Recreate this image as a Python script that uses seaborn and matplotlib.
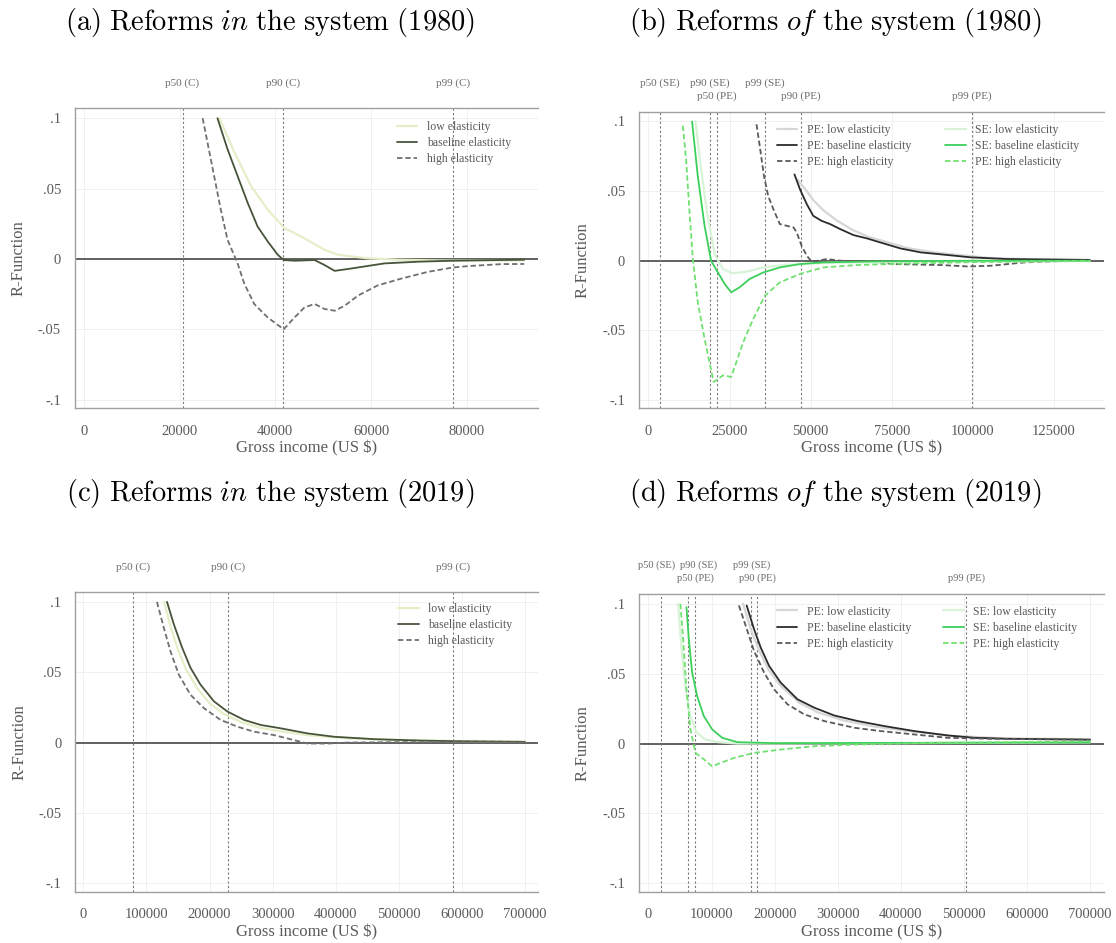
import matplotlib
matplotlib.use("Agg")
import matplotlib.pyplot as plt
import matplotlib.transforms as mtransforms
import seaborn as sns

# ---------------- values ----------------
# (a) reforms in the system, 1980
a_low_x = [28300, 31400, 34900, 38400, 41900, 45400, 50300, 53100, 59300, 66000, 75000, 85000, 92000]
a_low_y = [0.1, 0.076, 0.052, 0.035, 0.022, 0.016, 0.0065, 0.003, 0.0005, -0.0005, -0.001, -0.001, -0.001]
a_base_x = [27900, 30000, 32100, 34200, 36300, 38400, 40500, 41750, 44000, 48200, 50300, 52400,
            55900, 62800, 69800, 77100, 87300, 92000]
a_base_y = [0.1, 0.078, 0.059, 0.040, 0.023, 0.0125, 0.003, -0.0007, -0.0012, -0.0007, -0.0043, -0.0084,
            -0.0067, -0.0031, -0.0019, -0.0012, -0.0007, -0.0005]
a_high_x = [24800, 25800, 27200, 28600, 30000, 32100, 33500, 35600, 38400, 41750, 44000, 46100, 48200,
            50300, 52400, 54500, 57300, 61400, 66300, 71900, 77100, 80300, 87300, 92000]
a_high_y = [0.1, 0.083, 0.059, 0.035, 0.0137, -0.003, -0.0175, -0.032, -0.0415, -0.0499, -0.0415, -0.0343,
            -0.0319, -0.0355, -0.0367, -0.0331, -0.0259, -0.0187, -0.0139, -0.0091, -0.006, -0.005,
            -0.0036, -0.0035]
a_pct_x = [20600, 41600, 77100]
a_pct_lab = ["p50 (C)", "p90 (C)", "p99 (C)"]

# (b) reforms of the system, 1980
b_pe_low_x = [46000, 48800, 51000, 54000, 58000, 63000, 68000, 74000, 80000, 88000, 96000, 105000, 118000, 136000]
b_pe_low_y = [0.058, 0.05, 0.043, 0.036, 0.029, 0.022, 0.017, 0.013, 0.009, 0.006, 0.004, 0.002, 0.001, 0.0005]
b_pe_base_x = [45000, 46700, 48800, 50800, 53400, 56000, 59100, 63200, 67400, 71500, 77700, 83900,
               92200, 99400, 110700, 130400, 136000]
b_pe_base_y = [0.062, 0.0513, 0.0406, 0.0322, 0.0286, 0.0263, 0.0227, 0.0184, 0.016, 0.0131, 0.0088, 0.006,
               0.0041, 0.0024, 0.0012, 0.0007, 0.0006]
b_pe_high_x = [33300, 34300, 35600, 36900, 38500, 40500, 42600, 44700, 45700, 47200, 48800, 50300, 55000,
               59100, 69400, 75600, 90100, 98400, 105600, 115900, 130400, 136000]
b_pe_high_y = [0.098, 0.0823, 0.0609, 0.0465, 0.037, 0.0263, 0.0251, 0.0239, 0.0203, 0.0107, 0.0036, -0.0007,
               0.0012, 0.0, -0.0007, -0.0024, -0.0031, -0.0041, -0.0036, -0.0012, 0.0, 0.0]
b_se_low_x = [14500, 16000, 18000, 20500, 23000, 26000, 30000, 35000, 42000, 55000, 80000, 136000]
b_se_low_y = [0.1, 0.07, 0.035, 0.004, -0.006, -0.009, -0.008, -0.005, -0.003, -0.0015, -0.0008, -0.0003]
b_se_base_x = [13450, 15200, 17300, 19300, 21400, 23500, 25500, 28100, 31200, 35400, 40500, 46700, 53900,
               70000, 100000, 136000]
b_se_base_y = [0.1, 0.0609, 0.0251, 0.0, -0.0084, -0.0167, -0.0227, -0.0191, -0.0131, -0.0084, -0.0048,
               -0.0024, -0.0012, -0.0005, 0.0, 0.0]
b_se_high_x = [10600, 11600, 12600, 13700, 15200, 17300, 18800, 20100, 23000, 25500, 27100, 29200, 32300,
               35900, 40500, 46700, 53900, 64300, 80000, 100000, 136000]
b_se_high_y = [0.097, 0.0728, 0.037, 0.0012, -0.0298, -0.0561, -0.0728, -0.0871, -0.0823, -0.0835, -0.0728,
               -0.0585, -0.0418, -0.0251, -0.0155, -0.0095, -0.0048, -0.0031, -0.002, -0.001, 0.0]
b_pct_se_x = [3500, 19000, 35900]
b_pct_se_lab = ["p50 (SE)", "p90 (SE)", "p99 (SE)"]
b_pct_pe_x = [21200, 46900, 99600]
b_pct_pe_lab = ["p50 (PE)", "p90 (PE)", "p99 (PE)"]

# (c) reforms in the system, 2019
c_low_x = [128000, 138000, 150000, 163000, 180000, 200000, 222000, 250000, 280000, 320000, 360000, 420000,
           500000, 600000, 700000]
c_low_y = [0.1, 0.083, 0.066, 0.052, 0.039, 0.028, 0.0205, 0.0145, 0.0105, 0.0075, 0.005, 0.003, 0.0018,
           0.001, 0.0007]
c_base_x = [132600, 143200, 156500, 169800, 185700, 207000, 228200, 254800, 281300, 313200, 355600, 398100,
            461800, 536200, 589300, 700000]
c_base_y = [0.1, 0.0844, 0.0676, 0.0532, 0.0412, 0.0293, 0.0221, 0.0161, 0.0125, 0.0101, 0.0065, 0.0041,
            0.0024, 0.0014, 0.001, 0.0005]
c_high_x = [116700, 127300, 137900, 151200, 169800, 191000, 217600, 244100, 270700, 302500, 334400, 355600,
            387500, 419400, 500000, 600000, 700000]
c_high_y = [0.1, 0.082, 0.0652, 0.0484, 0.034, 0.0245, 0.0161, 0.0113, 0.0077, 0.0053, 0.0017, -0.0007,
            -0.0007, 0.0, 0.0003, 0.0003, 0.0002]
c_pct_x = [79500, 228900, 586600]
c_pct_lab = ["p50 (C)", "p90 (C)", "p99 (C)"]

# (d) reforms of the system, 2019
d_pe_low_x = [150000, 162000, 175000, 190000, 210000, 240000, 270000, 310000, 360000, 420000, 480000, 560000, 700000]
d_pe_low_y = [0.1, 0.082, 0.067, 0.053, 0.041, 0.029, 0.022, 0.0165, 0.012, 0.0085, 0.0055, 0.0038, 0.003]
d_pe_base_x = [155600, 167200, 177800, 191100, 209600, 236100, 262600, 294400, 331500, 373900, 421600,
               474600, 517000, 570000, 670700, 700000]
d_pe_base_y = [0.0988, 0.082, 0.0688, 0.0556, 0.0436, 0.0317, 0.0257, 0.0201, 0.0161, 0.0125, 0.0089,
               0.0058, 0.0041, 0.0034, 0.0029, 0.0027]
d_pe_high_x = [143400, 154000, 167200, 183200, 199100, 220300, 246800, 278500, 326200, 368600, 421600,
               474600, 543500, 670700, 700000]
d_pe_high_y = [0.0988, 0.0844, 0.0664, 0.0508, 0.0388, 0.0281, 0.0209, 0.0161, 0.0113, 0.0089, 0.0065,
               0.0041, 0.0034, 0.0029, 0.0028]
d_se_low_x = [47000, 52000, 58000, 66000, 76000, 90000, 110000, 140000, 200000, 400000, 700000]
d_se_low_y = [0.1, 0.07, 0.042, 0.02, 0.008, 0.003, 0.001, 0.0, 0.0, 0.0003, 0.0008]
d_se_base_x = [60200, 63900, 69200, 77100, 87700, 101000, 116900, 140700, 200000, 400000, 700000]
d_se_base_y = [0.0976, 0.0748, 0.0508, 0.034, 0.0197, 0.0101, 0.0041, 0.001, 0.0003, 0.0005, 0.0008]
d_se_high_x = [50600, 54900, 60200, 66500, 74500, 85100, 101000, 114200, 135400, 167200, 209600, 262600,
               326200, 450000, 700000]
d_se_high_y = [0.1, 0.0748, 0.0388, 0.0101, -0.0067, -0.0103, -0.0163, -0.0139, -0.0103, -0.0067, -0.0043,
               -0.0019, -0.0007, 0.0005, 0.0015]
d_pct_se_x = [19900, 62500, 163100]
d_pct_se_lab = ["p50 (SE)", "p90 (SE)", "p99 (SE)"]
d_pct_pe_x = [73900, 172700, 504000]
d_pct_pe_lab = ["p50 (PE)", "p90 (PE)", "p99 (PE)"]

y_ticks = [-0.1, -0.05, 0, 0.05, 0.1]
y_tick_labels = ["-.1", "-.05", "0", ".05", ".1"]
xt_1980a = [0, 20000, 40000, 60000, 80000]
xt_1980b = [0, 25000, 50000, 75000, 100000, 125000]
xt_2019 = [0, 100000, 200000, 300000, 400000, 500000, 600000, 700000]

titles = [r"$\mathrm{(a)\ Reforms\ }\mathit{in}\mathrm{\ the\ system\ (1980)}$",
          r"$\mathrm{(b)\ Reforms\ }\mathit{of}\mathrm{\ the\ system\ (1980)}$",
          r"$\mathrm{(c)\ Reforms\ }\mathit{in}\mathrm{\ the\ system\ (2019)}$",
          r"$\mathrm{(d)\ Reforms\ }\mathit{of}\mathrm{\ the\ system\ (2019)}$"]

# ---------------- styling ----------------
sns.set_style("white")
plt.rcParams["font.family"] = ["Liberation Serif", "DejaVu Serif"]
plt.rcParams["mathtext.fontset"] = "cm"

TXT = "#5a5a5a"
C_LOW, C_BASE, C_HIGH = "#e6eec8", "#46543a", "#707070"
PE_LOW, PE_BASE, PE_HIGH = "#d6d6d6", "#2b2b2b", "#5a5a5a"
SE_LOW, SE_BASE, SE_HIGH = "#d8f3d8", "#3ccf5a", "#70e070"
DASH = (0, (3, 1.6))

fig = plt.figure(figsize=(11.16, 9.43), dpi=100)
ax_a = fig.add_axes([0.0672, 0.567, 0.4149, 0.3181])
ax_b = fig.add_axes([0.5726, 0.567, 0.4167, 0.3145])
ax_c = fig.add_axes([0.0675, 0.0544, 0.4142, 0.3178])
ax_d = fig.add_axes([0.5726, 0.0544, 0.4167, 0.3157])


def frame(ax, xlim, xticks):
    ax.set_xlim(xlim)
    ax.set_ylim(-0.106, 0.107)
    ax.set_xticks(xticks, [str(v) for v in xticks])
    ax.set_yticks(y_ticks, y_tick_labels)
    ax.grid(True, color="#eeeeee", lw=0.6)
    ax.set_axisbelow(True)
    for s in ["left", "bottom", "top"]:
        ax.spines[s].set_color("#a0a0a0")
        ax.spines[s].set_linewidth(1.0)
    ax.spines["right"].set_visible(False)
    ax.tick_params(axis="both", direction="out", length=4, width=0.7, color="#a0a0a0",
                   labelsize=10.5, labelcolor=TXT, pad=6)
    ax.tick_params(axis="x", pad=8)
    ax.set_xlabel("Gross income (US $)", fontsize=12, color=TXT, labelpad=2)
    ax.set_ylabel("R-Function", fontsize=12, color=TXT, labelpad=8)
    ax.axhline(0, color="#555555", lw=1.3, zorder=1)


def pct_lines(ax, xs, labels, dy, shifts=None, size=8):
    shifts = shifts or [0] * len(xs)
    for x, lab, sh in zip(xs, labels, shifts):
        ax.axvline(x, color="#7a7a7a", lw=0.8, ls=(0, (2, 2)), zorder=1)
        tr = mtransforms.offset_copy(ax.get_xaxis_transform(), fig=fig, x=sh, y=0, units="dots")
        ax.text(x, 1 + dy, lab, transform=tr, ha="center", va="center",
                fontsize=size, color="#6a6a6a", clip_on=False)


def curve(ax, x, y, color, ls="-", lw=1.3, label=None):
    sns.lineplot(x=x, y=y, ax=ax, color=color, lw=lw, linestyle=ls, sort=False, estimator=None)
    line = ax.lines[-1]
    if label is not None:
        line.set_label(label)
    return line


def legend(ax, handles, x, y):
    lg = ax.legend(handles=handles, loc="upper left", bbox_to_anchor=(x, y), frameon=False,
                   fontsize=8.5, handlelength=1.75, handletextpad=0.8, labelspacing=0.35,
                   borderpad=0, borderaxespad=0)
    for t in lg.get_texts():
        t.set_color(TXT)
    return lg


# (a)
frame(ax_a, (-1880, 94900), xt_1980a)
pct_lines(ax_a, a_pct_x, a_pct_lab, 0.084)
h = [curve(ax_a, a_low_x, a_low_y, C_LOW, lw=1.6, label="low elasticity"),
     curve(ax_a, a_base_x, a_base_y, C_BASE, label="baseline elasticity"),
     curve(ax_a, a_high_x, a_high_y, C_HIGH, ls=DASH, label="high elasticity")]
legend(ax_a, h, 0.695, 0.959)

# (b)
frame(ax_b, (-2900, 140400), xt_1980b)
pct_lines(ax_b, b_pct_se_x, b_pct_se_lab, 0.096)
pct_lines(ax_b, b_pct_pe_x, b_pct_pe_lab, 0.051)
pe = [curve(ax_b, b_pe_low_x, b_pe_low_y, PE_LOW, lw=1.6, label="PE: low elasticity"),
      curve(ax_b, b_pe_base_x, b_pe_base_y, PE_BASE, label="PE: baseline elasticity"),
      curve(ax_b, b_pe_high_x, b_pe_high_y, PE_HIGH, ls=DASH, label="PE: high elasticity")]
se = [curve(ax_b, b_se_low_x, b_se_low_y, SE_LOW, lw=1.6, label="SE: low elasticity"),
      curve(ax_b, b_se_base_x, b_se_base_y, SE_BASE, label="SE: baseline elasticity"),
      curve(ax_b, b_se_high_x, b_se_high_y, SE_HIGH, ls=DASH, label="PE: high elasticity")]
ax_b.add_artist(legend(ax_b, pe, 0.296, 0.959))
legend(ax_b, se, 0.658, 0.959)

# (c)
frame(ax_c, (-12700, 720100), xt_2019)
pct_lines(ax_c, c_pct_x, c_pct_lab, 0.084)
h = [curve(ax_c, c_low_x, c_low_y, C_LOW, lw=1.6, label="low elasticity"),
     curve(ax_c, c_base_x, c_base_y, C_BASE, label="baseline elasticity"),
     curve(ax_c, c_high_x, c_high_y, C_HIGH, ls=DASH, label="high elasticity")]
legend(ax_c, h, 0.698, 0.963)

# (d)
frame(ax_d, (-15000, 722200), xt_2019)
pct_lines(ax_d, d_pct_se_x, d_pct_se_lab, 0.097, shifts=[-4, 11, 0], size=7.5)
pct_lines(ax_d, d_pct_pe_x, d_pct_pe_lab, 0.053, size=7.5)
pe = [curve(ax_d, d_pe_low_x, d_pe_low_y, PE_LOW, lw=1.6, label="PE: low elasticity"),
      curve(ax_d, d_pe_base_x, d_pe_base_y, PE_BASE, label="PE: baseline elasticity"),
      curve(ax_d, d_pe_high_x, d_pe_high_y, PE_HIGH, ls=DASH, label="PE: high elasticity")]
se = [curve(ax_d, d_se_low_x, d_se_low_y, SE_LOW, lw=1.6, label="SE: low elasticity"),
      curve(ax_d, d_se_base_x, d_se_base_y, SE_BASE, label="SE: baseline elasticity"),
      curve(ax_d, d_se_high_x, d_se_high_y, SE_HIGH, ls=DASH, label="PE: high elasticity")]
ax_d.add_artist(legend(ax_d, pe, 0.296, 0.961))
legend(ax_d, se, 0.654, 0.961)

# panel titles
for (x, y), t in zip([(0.242, 0.976), (0.748, 0.976), (0.242, 0.477), (0.748, 0.477)], titles):
    fig.text(x, y, t, ha="center", va="center", fontsize=20.5, color="black")

fig.savefig("out.png", dpi=100)
